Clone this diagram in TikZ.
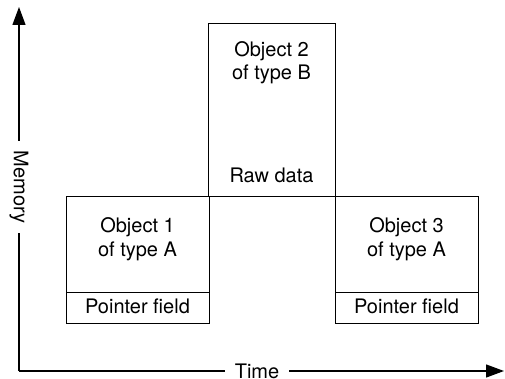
\documentclass[tikz,border=0pt]{standalone}
\usepackage{fontspec}
\setmainfont{TeX Gyre Heros}
\usetikzlibrary{arrows.meta}
\begin{document}
\begin{tikzpicture}[x=1pt,y=-1pt,
  box/.style={draw,line width=1.3pt,inner sep=0pt,anchor=north west},
  txt/.style={font=\fontsize{20}{23}\selectfont,anchor=base,inner sep=0pt},
  axis/.style={line width=1.3pt,-{Triangle[length=18pt,width=13pt]}},
  axlabel/.style={fill=white,font=\fontsize{20}{23}\selectfont,inner xsep=10pt,inner ysep=2pt}]
\useasboundingbox (0,0) rectangle (505,379);
% boxes
\node[box,minimum width=127pt,minimum height=173pt] (b2) at (208,23) {};
\node[box,minimum width=143pt,minimum height=96pt] (b1) at (66,196) {};
\node[box,minimum width=143pt,minimum height=31pt] (p1) at (66,292) {};
\node[box,minimum width=143pt,minimum height=96pt] (b3) at (335,196) {};
\node[box,minimum width=143pt,minimum height=31pt] (p3) at (335,292) {};
% texts
\node[txt] (t2a) at (271.5,57) {Object 2};
\node[txt] (t2b) at (271.5,80) {of type B};
\node[txt] (t2c) at (271.5,183) {Raw data};
\node[txt] (t1a) at (137.5,232) {Object 1};
\node[txt] (t1b) at (137.5,256) {of type A};
\node[txt] (t1c) at (137.5,313) {Pointer field};
\node[txt] (t3a) at (406.5,232) {Object 3};
\node[txt] (t3b) at (406.5,256) {of type A};
\node[txt] (t3c) at (406.5,313) {Pointer field};
% axes
\coordinate (o) at (19,371);
\coordinate (ytip) at (19,7);
\coordinate (xtip) at (504,371);
\draw[axis] (o) -- (ytip);
\draw[axis] (o) -- (xtip);
\node[axlabel,rotate=-90] (mem) at (19,187) {Memory};
\node[axlabel] (time) at (257,371) {Time};
\end{tikzpicture}
\end{document}
